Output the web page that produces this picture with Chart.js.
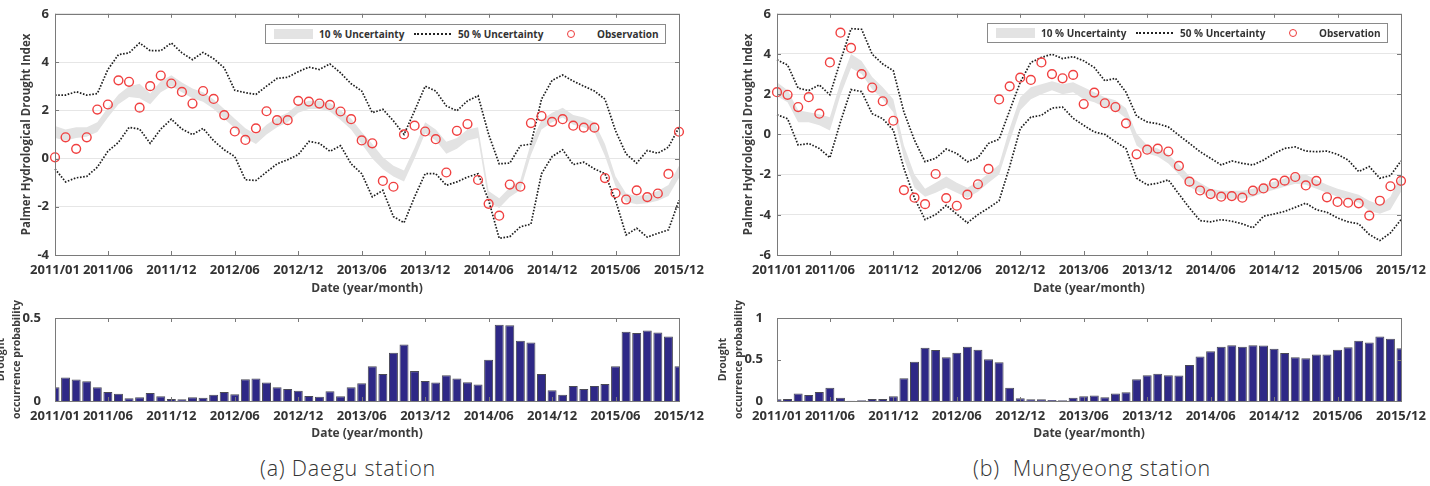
<!DOCTYPE html>
<html>
<head>
<meta charset="utf-8">
<script src="https://cdn.jsdelivr.net/npm/chart.js@4.4.1/dist/chart.umd.min.js"></script>
<style>
  body { margin: 0; background: #fff; width: 1430px; height: 486px; overflow: hidden; position: relative; font-family: "Open Sans", sans-serif; }
  canvas { position: absolute; }
  .legend { position: absolute; width: 401px; height: 20px; border: 1px solid #8a8a8a; background: #fff; box-sizing: border-box; font: bold 10px "Open Sans", sans-serif; color: #333; }
  .legend span { position: absolute; }
  .legend .txt { top: 3px; line-height: 12px; white-space: pre; }
  .legend .band { left: 8px; top: 4px; width: 39px; height: 10px; background: #e3e3e3; }
  .legend .dots { left: 148px; top: 8px; width: 37px; height: 0; border-top: 2px dotted #222; }
  .legend .circ { left: 301px; top: 5px; width: 6px; height: 6px; border: 1.5px solid #ee3b3b; border-radius: 50%; }
  .caption { position: absolute; top: 454px; font: 300 21.5px "Open Sans", sans-serif; letter-spacing: 0.8px; color: #333; line-height: 28px; white-space: pre; }
</style>
</head>
<body>
<canvas id="daeguTop" width="720" height="300" style="left:0;top:0"></canvas>
<canvas id="mgTop" width="720" height="300" style="left:722px;top:0"></canvas>
<canvas id="daeguBot" width="730" height="145" style="left:-10px;top:300px"></canvas>
<canvas id="mgBot" width="730" height="145" style="left:712px;top:300px"></canvas>

<div class="legend" style="left:265px;top:24px">
  <span class="band"></span><span class="txt" style="left:53px">10 % Uncertainty</span>
  <span class="dots"></span><span class="txt" style="left:192px">50 % Uncertainty</span>
  <span class="circ"></span><span class="txt" style="left:331px">Observation</span>
</div>
<div class="legend" style="left:987px;top:23px">
  <span class="band"></span><span class="txt" style="left:53px">10 % Uncertainty</span>
  <span class="dots"></span><span class="txt" style="left:192px">50 % Uncertainty</span>
  <span class="circ"></span><span class="txt" style="left:331px">Observation</span>
</div>
<div class="caption" style="left:260px">(a) Daegu station</div>
<div class="caption" style="left:973px">(b)  Mungyeong station</div>

<script>
// months 2011/01 .. 2015/12
const months = [];
for (let y = 2011; y <= 2015; y++) {
    for (let m = 1; m <= 12; m++) months.push(y + '/' + String(m).padStart(2, '0'));
}
const tickLabels = ['2011/01', '2011/06', '2011/12', '2012/06', '2012/12', '2013/06',
    '2013/12', '2014/06', '2014/12', '2015/06', '2015/12'];

// (a) Daegu
const daeguObs = [0.05, 0.88, 0.40, 0.88, 2.03, 2.24, 3.24, 3.18, 2.11, 3.00,
    3.44, 3.11, 2.76, 2.28, 2.80, 2.47, 1.80, 1.12, 0.77, 1.25,
    1.96, 1.59, 1.59, 2.39, 2.36, 2.28, 2.22, 1.95, 1.63, 0.75,
    0.63, -0.93, -1.17, 1.00, 1.36, 1.12, 0.80, -0.58, 1.15, 1.43,
    -0.89, -1.88, -2.37, -1.08, -1.17, 1.47, 1.76, 1.52, 1.63, 1.36,
    1.28, 1.28, -0.81, -1.44, -1.70, -1.32, -1.60, -1.45, -0.64, 1.11];
const daeguBandLo = [0.85, 0.75, 0.85, 0.90, 1.10, 1.70, 2.25, 2.55, 2.50, 2.25,
    2.75, 3.00, 2.75, 2.50, 2.35, 2.05, 1.65, 1.25, 0.85, 0.60,
    1.00, 1.30, 1.50, 1.90, 2.05, 2.05, 1.95, 1.60, 1.20, 0.60,
    0.00, -0.45, -0.75, -0.95, 0.00, 1.05, 0.75, 0.20, 0.40, 0.75,
    0.85, -1.80, -2.05, -1.60, -1.30, 0.15, 1.20, 1.50, 1.70, 1.40,
    1.30, 1.10, 0.10, -1.15, -1.80, -1.90, -1.85, -1.75, -1.55, -0.80];
const daeguBandHi = [1.35, 1.20, 1.30, 1.30, 1.50, 2.10, 2.65, 3.00, 3.10, 2.70,
    3.20, 3.45, 3.15, 2.90, 2.75, 2.45, 2.05, 1.65, 1.25, 1.00,
    1.40, 1.70, 1.90, 2.25, 2.40, 2.40, 2.30, 2.00, 1.65, 1.10,
    0.60, 0.05, -0.30, -0.50, 0.45, 1.50, 1.20, 0.70, 0.85, 1.20,
    1.30, -1.35, -1.65, -1.20, -0.90, 0.65, 1.60, 1.90, 2.10, 1.80,
    1.70, 1.50, 0.60, -0.75, -1.45, -1.55, -1.50, -1.35, -1.10, -0.30];
const daeguUpper50 = [2.63, 2.63, 2.77, 2.63, 2.69, 3.69, 4.31, 4.38, 4.79, 4.47,
    4.47, 4.79, 4.38, 4.10, 4.40, 4.14, 3.76, 2.83, 2.73, 2.66,
    3.00, 3.32, 3.37, 3.60, 3.79, 3.69, 3.92, 3.55, 3.10, 2.80,
    1.90, 2.04, 1.56, 1.00, 1.98, 3.00, 2.80, 2.18, 1.98, 2.39,
    2.60, 1.00, -0.22, -0.19, 0.53, 0.60, 2.46, 3.24, 3.46, 3.21,
    3.00, 2.80, 2.46, 1.15, 0.19, -0.19, 0.33, 0.22, 0.47, 1.29];
const daeguLower50 = [-0.43, -0.97, -0.80, -0.74, -0.36, 0.30, 0.67, 1.29, 1.22, 0.63,
    1.22, 1.63, 1.22, 0.99, 1.25, 0.74, 0.36, 0.08, -0.88, -0.91,
    -0.56, -0.22, -0.05, 0.16, 0.71, 0.63, 0.30, 0.53, -0.22, -0.63,
    -1.59, -1.32, -2.41, -2.66, -1.59, -0.63, -0.63, -1.11, -0.97, -0.77,
    -0.63, -1.73, -3.31, -3.24, -2.83, -2.72, -0.63, 0.08, 0.36, -0.25,
    -0.15, -0.43, -0.63, -1.73, -3.17, -2.89, -3.26, -3.10, -2.96, -1.73];
const daeguProb = [0.083, 0.141, 0.129, 0.119, 0.083, 0.054, 0.044, 0.016, 0.022, 0.048,
    0.028, 0.012, 0.010, 0.022, 0.020, 0.038, 0.054, 0.040, 0.131, 0.135,
    0.111, 0.083, 0.073, 0.062, 0.030, 0.026, 0.058, 0.028, 0.083, 0.107,
    0.210, 0.163, 0.290, 0.340, 0.180, 0.121, 0.111, 0.155, 0.135, 0.113,
    0.100, 0.248, 0.460, 0.456, 0.363, 0.353, 0.163, 0.065, 0.038, 0.091,
    0.073, 0.091, 0.103, 0.210, 0.417, 0.409, 0.425, 0.413, 0.389, 0.210];

// (b) Mungyeong
const mgObs = [2.10, 1.97, 1.36, 1.85, 1.03, 3.58, 5.06, 4.30, 3.00, 2.33,
    1.65, 0.68, -2.77, -3.15, -3.47, -1.97, -3.17, -3.55, -3.00, -2.48,
    -1.72, 1.74, 2.39, 2.82, 2.71, 3.58, 3.00, 2.79, 2.96, 1.51,
    2.08, 1.55, 1.36, 0.55, -0.99, -0.76, -0.71, -0.85, -1.57, -2.35,
    -2.79, -2.97, -3.10, -3.07, -3.15, -2.80, -2.69, -2.44, -2.30, -2.12,
    -2.54, -2.31, -3.13, -3.36, -3.40, -3.43, -4.04, -3.30, -2.58, -2.31];
const mgBandLo = [1.90, 1.60, 0.60, 0.60, 0.45, 0.20, 1.95, 3.30, 3.00, 2.25,
    1.75, 1.10, -1.20, -2.65, -3.10, -2.90, -2.65, -2.90, -3.15, -2.85,
    -2.40, -2.00, -0.35, 1.20, 1.75, 2.00, 2.20, 2.00, 2.10, 1.75,
    1.60, 1.35, 1.20, 0.80, -0.55, -0.95, -1.10, -1.45, -2.00, -2.60,
    -2.90, -3.10, -3.20, -3.20, -3.20, -3.10, -2.90, -2.75, -2.60, -2.45,
    -2.50, -2.70, -2.90, -3.10, -3.25, -3.40, -3.80, -3.95, -3.75, -2.85];
const mgBandHi = [2.60, 2.20, 1.20, 1.10, 1.00, 0.85, 2.60, 4.00, 3.65, 2.85,
    2.35, 1.75, -0.55, -2.00, -2.70, -2.40, -2.10, -2.40, -2.65, -2.35,
    -1.95, -1.50, 0.30, 1.85, 2.35, 2.50, 2.65, 2.50, 2.60, 2.35,
    2.10, 1.85, 1.70, 1.30, 0.05, -0.55, -0.70, -1.00, -1.50, -2.10,
    -2.40, -2.70, -2.80, -2.80, -2.80, -2.70, -2.50, -2.35, -2.20, -2.00,
    -2.00, -2.25, -2.50, -2.70, -2.85, -3.00, -3.30, -3.50, -3.10, -2.00];
const mgUpper50 = [3.71, 3.45, 2.30, 2.18, 2.46, 1.97, 3.66, 5.26, 5.23, 3.99,
    3.50, 3.17, 1.11, -0.29, -1.36, -1.19, -0.73, -0.95, -1.36, -1.16,
    -0.45, -0.24, 1.19, 2.59, 3.58, 3.83, 3.99, 3.77, 3.87, 3.66,
    3.33, 2.67, 2.79, 2.10, 0.91, 0.62, 0.53, 0.37, -0.04, -0.45,
    -0.86, -1.19, -1.52, -1.32, -1.44, -1.52, -1.28, -0.95, -0.70, -0.62,
    -0.83, -0.86, -0.83, -0.99, -1.28, -1.85, -1.60, -2.18, -2.05, -1.32];
const mgLower50 = [0.98, 0.78, -0.53, -0.45, -0.70, -1.16, 0.62, 2.23, 2.13, 1.03,
    0.78, 0.21, -1.69, -3.17, -4.24, -3.99, -3.53, -3.96, -4.40, -3.99,
    -3.66, -3.30, -1.60, 0.29, 0.86, 0.95, 1.31, 1.36, 0.80, 0.45,
    0.12, 0.00, -0.37, -0.70, -2.18, -2.51, -2.43, -2.26, -2.97, -3.66,
    -4.29, -4.35, -4.24, -4.32, -4.45, -4.65, -4.07, -3.96, -3.83, -3.63,
    -3.42, -3.75, -3.87, -4.16, -4.35, -4.45, -4.98, -5.28, -4.90, -4.24];
const mgProb = [0.020, 0.024, 0.089, 0.073, 0.109, 0.161, 0.040, 0.004, 0.008, 0.024,
    0.024, 0.056, 0.274, 0.472, 0.641, 0.613, 0.528, 0.580, 0.653, 0.617,
    0.504, 0.468, 0.161, 0.032, 0.020, 0.020, 0.012, 0.008, 0.040, 0.056,
    0.065, 0.044, 0.089, 0.105, 0.262, 0.310, 0.327, 0.310, 0.306, 0.435,
    0.536, 0.600, 0.653, 0.673, 0.653, 0.673, 0.669, 0.629, 0.577, 0.528,
    0.516, 0.560, 0.560, 0.617, 0.649, 0.726, 0.706, 0.778, 0.750, 0.637];

const tickFont = { family: 'Open Sans', size: 13, weight: 'bold' };
const titleFont = { family: 'Open Sans', size: 12, weight: 'bold' };

// box around plot + inward tick marks (matlab style)
const framePlugin = {
    id: 'frame',
    afterDraw(chart) {
        const { ctx, chartArea: a, scales } = chart;
        ctx.save();
        ctx.strokeStyle = '#7a7a7a';
        ctx.lineWidth = 1;
        ctx.beginPath();
        scales.x.ticks.forEach(t => {
            const px = Math.round(scales.x.getPixelForValue(t.value)) + 0.5;
            ctx.moveTo(px, a.top); ctx.lineTo(px, a.top + 4);
            ctx.moveTo(px, a.bottom); ctx.lineTo(px, a.bottom - 4);
        });
        scales.y.ticks.forEach(t => {
            const py = Math.round(scales.y.getPixelForValue(t.value)) + 0.5;
            ctx.moveTo(a.left, py); ctx.lineTo(a.left + 4, py);
            ctx.moveTo(a.right, py); ctx.lineTo(a.right - 4, py);
        });
        ctx.stroke();
        ctx.strokeRect(Math.round(a.left) + 0.5, Math.round(a.top) + 0.5, Math.round(a.width), Math.round(a.height));
        ctx.restore();
    }
};

function xAxis(h, titlePad) {
    return {
        type: 'category',
        offset: false,
        grid: { display: false },
        border: { display: false },
        afterBuildTicks: s => { s.ticks = tickLabels.map(l => ({ value: months.indexOf(l) })); },
        ticks: { autoSkip: false, maxRotation: 0, padding: -1, color: '#333', font: tickFont },
        title: { display: true, text: 'Date (year/month)', color: '#3c3c3c', font: titleFont, padding: { top: 0, bottom: titlePad } },
        afterFit: s => { s.height = h; }
    };
}

function makeTop(id, obs, bandLo, bandHi, up50, lo50, yMin, yMax) {
    new Chart(document.getElementById(id), {
        type: 'line',
        data: {
            labels: months,
            datasets: [
                { data: obs, showLine: false, pointRadius: 4.4, pointBorderWidth: 1.4, pointBorderColor: '#f04040',
                  pointBackgroundColor: 'rgba(0,0,0,0)', clip: false, order: 0 },
                { data: up50, borderColor: '#1e1e1e', borderWidth: 1.7, borderDash: [1.6, 1.6], pointRadius: 0, fill: false, order: 1 },
                { data: lo50, borderColor: '#1e1e1e', borderWidth: 1.7, borderDash: [1.6, 1.6], pointRadius: 0, fill: false, order: 1 },
                { data: bandLo, borderWidth: 0, pointRadius: 0, fill: false, order: 2 },
                { data: bandHi, borderWidth: 0, pointRadius: 0, fill: '-1', backgroundColor: '#e3e3e3', order: 2 }
            ]
        },
        options: {
            responsive: false,
            animation: false,
            layout: { padding: { top: 12, right: 41, left: 0, bottom: 0 } },
            plugins: { legend: { display: false }, tooltip: { enabled: false } },
            scales: {
                x: xAxis(45, 4),
                y: {
                    min: yMin, max: yMax,
                    ticks: { stepSize: 2, padding: 6, color: '#333', font: tickFont },
                    grid: { color: '#e6e6e6', drawTicks: false },
                    border: { display: false },
                    title: { display: true, text: 'Palmer Hydrological Drought Index', color: '#3c3c3c',
                             font: { family: 'Open Sans', size: 11.5, weight: 'bold' }, padding: { top: 20, bottom: 0 } },
                    afterFit: s => { s.width = 55; }
                }
            }
        },
        plugins: [framePlugin]
    });
}

function makeBottom(id, prob, yMax) {
    new Chart(document.getElementById(id), {
        type: 'bar',
        data: {
            labels: months,
            datasets: [{ data: prob, backgroundColor: '#2e2886', borderColor: '#4a4a55', borderWidth: 1,
                         barPercentage: 0.85, categoryPercentage: 1, clip: 0 }]
        },
        options: {
            responsive: false,
            animation: false,
            layout: { padding: { top: 18, right: 41, left: 0, bottom: 0 } },
            plugins: { legend: { display: false }, tooltip: { enabled: false } },
            scales: {
                x: xAxis(44, 4),
                y: {
                    min: 0, max: yMax,
                    ticks: { stepSize: 0.5, padding: 6, color: '#333', font: tickFont, callback: v => String(v) },
                    grid: { display: false },
                    border: { display: false },
                    title: { display: true, text: ['Drought', 'occurrence probability'], color: '#3c3c3c',
                             font: { family: 'Open Sans', size: 10.5, weight: 'bold', lineHeight: 1.5 }, padding: { top: 3, bottom: 0 } },
                    afterFit: s => { s.width = 65; }
                }
            }
        },
        plugins: [framePlugin]
    });
}

makeTop('daeguTop', daeguObs, daeguBandLo, daeguBandHi, daeguUpper50, daeguLower50, -4, 6);
makeTop('mgTop', mgObs, mgBandLo, mgBandHi, mgUpper50, mgLower50, -6, 6);
makeBottom('daeguBot', daeguProb, 0.5);
makeBottom('mgBot', mgProb, 1);
</script>
</body>
</html>
